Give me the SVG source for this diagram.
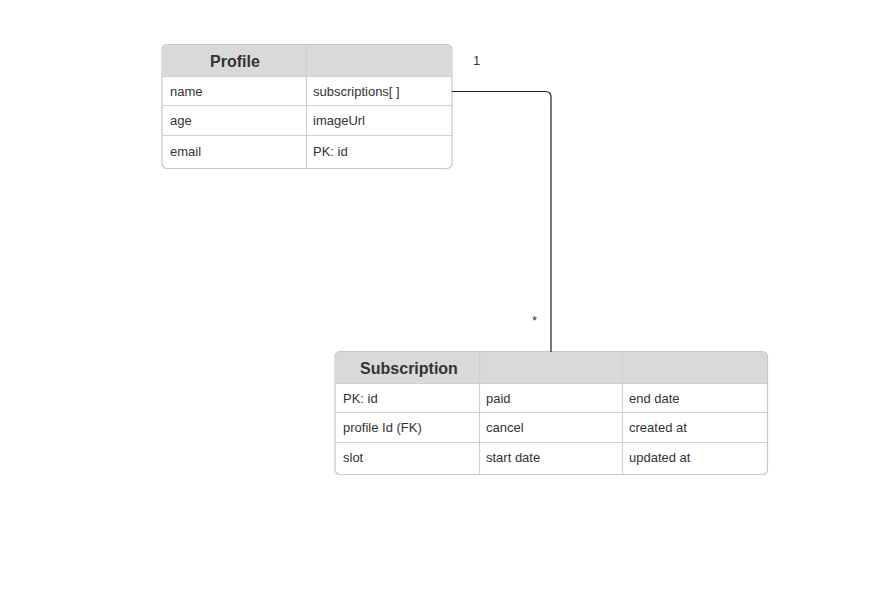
<svg xmlns="http://www.w3.org/2000/svg" width="890" height="596" viewBox="0 0 890 596">
<style>
.box{fill:#ffffff;stroke:#c8c8c8;stroke-width:1.2}
.hdr{fill:#d9d9d9}
.ln{stroke:#d0d0d0;stroke-width:1.2;fill:none}
.t{font-family:"Liberation Sans",Arial,sans-serif;font-size:13px;fill:#333333}
.h{font-family:"Liberation Sans",Arial,sans-serif;font-size:16px;font-weight:bold;fill:#333333}
.conn{fill:none;stroke:#222222;stroke-width:1.2}
</style>
<rect width="890" height="596" fill="#ffffff"/>
<g id="Profile">
<rect class="box" x="162" y="44.5" width="290" height="124" rx="5"/>
<path class="hdr" d="M167,45 H447 A4.5,4.5 0 0 1 451.5,49.5 V76 H162.5 V49.5 A4.5,4.5 0 0 1 167,45 Z"/>
<line class="ln" x1="162" y1="76.5" x2="452" y2="76.5"/>
<line class="ln" x1="162" y1="105.5" x2="452" y2="105.5"/>
<line class="ln" x1="162" y1="135.5" x2="452" y2="135.5"/>
<line class="ln" x1="306.5" y1="45" x2="306.5" y2="168"/>
<text class="h" x="235" y="66.5" text-anchor="middle">Profile</text>
<text class="t" x="170" y="96">name</text>
<text class="t" x="313" y="96">subscriptions[ ]</text>
<text class="t" x="170" y="125">age</text>
<text class="t" x="313" y="125">imageUrl</text>
<text class="t" x="170" y="156">email</text>
<text class="t" x="313" y="156">PK: id</text>
</g>
<g id="Subscription">
<rect class="box" x="335" y="351.5" width="432.5" height="123" rx="5"/>
<path class="hdr" d="M340,352 H762.5 A4.5,4.5 0 0 1 767,356.5 V383 H335.5 V356.5 A4.5,4.5 0 0 1 340,352 Z"/>
<line class="ln" x1="335" y1="383.5" x2="767.5" y2="383.5"/>
<line class="ln" x1="335" y1="412.5" x2="767.5" y2="412.5"/>
<line class="ln" x1="335" y1="442.5" x2="767.5" y2="442.5"/>
<line class="ln" x1="479.5" y1="352" x2="479.5" y2="474"/>
<line class="ln" x1="622.5" y1="352" x2="622.5" y2="474"/>
<text class="h" x="409" y="374" text-anchor="middle">Subscription</text>
<text class="t" x="343" y="403">PK: id</text>
<text class="t" x="486" y="403">paid</text>
<text class="t" x="629" y="403">end date</text>
<text class="t" x="343" y="432">profile Id (FK)</text>
<text class="t" x="486" y="432">cancel</text>
<text class="t" x="629" y="432">created at</text>
<text class="t" x="343" y="462">slot</text>
<text class="t" x="486" y="462">start date</text>
<text class="t" x="629" y="462">updated at</text>
</g>
<g id="connectors">
<path class="conn" d="M452,91.5 H546 A5,5 0 0 1 551,96.5 V352"/>
<text class="t" x="473" y="65">1</text>
<text class="t" x="532" y="325" font-size="11">*</text>
</g>
</svg>
